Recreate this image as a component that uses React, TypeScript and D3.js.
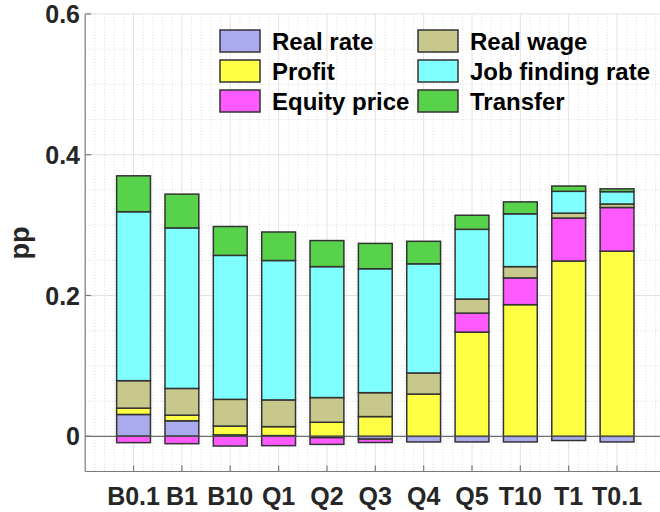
import { useEffect, useRef } from 'react'
import * as d3 from 'd3'

// categories along the x axis
const categories = ['B0.1', 'B1', 'B10', 'Q1', 'Q2', 'Q3', 'Q4', 'Q5', 'T10', 'T1', 'T0.1']

// contributions (pp) per channel
const realRate = [0.031, 0.022, 0.002, 0.001, -0.002, -0.004, -0.008, -0.008, -0.008, -0.006, -0.008]
const profit = [0.009, 0.008, 0.0125, 0.0127, 0.02, 0.028, 0.06, 0.148, 0.187, 0.249, 0.263]
const equityPrice = [-0.009, -0.0105, -0.0138, -0.0133, -0.0095, -0.0048, 0, 0.027, 0.038, 0.061, 0.062]
const realWage = [0.039, 0.038, 0.038, 0.038, 0.035, 0.034, 0.03, 0.02, 0.016, 0.007, 0.005]
const jobFinding = [0.24, 0.228, 0.2045, 0.198, 0.186, 0.176, 0.155, 0.099, 0.075, 0.031, 0.0175]
const transfer = [0.051, 0.048, 0.041, 0.0405, 0.037, 0.036, 0.032, 0.02, 0.017, 0.0075, 0.004]

const seriesNames = ['Real rate', 'Profit', 'Equity price', 'Real wage', 'Job finding rate', 'Transfer']
const seriesValues = [realRate, profit, equityPrice, realWage, jobFinding, transfer]
const seriesColors = ['#aaaaee', '#ffff44', '#ff5aff', '#c8c88c', '#80ffff', '#58d24a']

const yTicks = [0, 0.2, 0.4, 0.6]
const yTickLabels = ['0', '0.2', '0.4', '0.6']

const FONT = '"Liberation Sans", Arial, Helvetica, sans-serif'

const App = () => {
  const svgRef = useRef<SVGSVGElement>(null)

  useEffect(() => {
    if (!svgRef.current) return
    d3.select(svgRef.current).selectAll('*').remove()

    const width = 660
    const height = 512
    const svg = d3.select(svgRef.current).attr('width', width).attr('height', height)

    const x = d3.scaleLinear().domain([0, 12]).range([85.2, 665.4])
    const y = d3.scaleLinear().domain([-0.05, 0.6]).range([471.5, 13.9])
    const left = x(0)
    const right = width
    const top = y(0.6)
    const bottom = y(-0.05)

    // table for the stack
    const rows = categories.map((c, i) => {
      const r: Record<string, number | string> = { cat: c, idx: i + 1 }
      seriesNames.forEach((s, k) => { r[s] = seriesValues[k][i] })
      return r
    })

    const stacked = d3
      .stack<Record<string, number | string>>()
      .keys(seriesNames)
      .value((d, key) => d[key] as number)
      .offset(d3.stackOffsetDiverging)(rows)

    // minor grid
    const grid = svg.append('g')
    const minorX = d3.range(1, 60).map(i => i * 0.2).filter(v => Math.abs(v - Math.round(v)) > 1e-6)
    grid.selectAll('line.mx')
      .data(minorX)
      .enter()
      .append('line')
      .attr('x1', d => x(d)).attr('x2', d => x(d))
      .attr('y1', top).attr('y2', bottom)
      .attr('stroke', '#d6d6d6')
      .attr('stroke-width', 0.8)
      .attr('stroke-dasharray', '1,2')

    const minorY = d3.range(-1, 12).map(i => i * 0.05).filter(v => Math.abs(v / 0.2 - Math.round(v / 0.2)) > 1e-6)
    grid.selectAll('line.my')
      .data(minorY)
      .enter()
      .append('line')
      .attr('x1', left).attr('x2', right)
      .attr('y1', d => y(d)).attr('y2', d => y(d))
      .attr('stroke', '#d6d6d6')
      .attr('stroke-width', 0.8)
      .attr('stroke-dasharray', '1,2')

    // major grid
    grid.selectAll('line.gx')
      .data(d3.range(1, 12))
      .enter()
      .append('line')
      .attr('x1', d => x(d)).attr('x2', d => x(d))
      .attr('y1', top).attr('y2', bottom)
      .attr('stroke', '#e2e2e2')
      .attr('stroke-width', 1)

    grid.selectAll('line.gy')
      .data(yTicks)
      .enter()
      .append('line')
      .attr('x1', left).attr('x2', right)
      .attr('y1', d => y(d)).attr('y2', d => y(d))
      .attr('stroke', '#e2e2e2')
      .attr('stroke-width', 1)

    // bars
    const bw = 0.7 * (x(1) - x(0))
    const layers = svg.append('g')
      .selectAll('g.layer')
      .data(stacked)
      .enter()
      .append('g')
      .attr('fill', (_d, i) => seriesColors[i])

    layers.selectAll('rect')
      .data(d => d)
      .enter()
      .append('rect')
      .attr('x', d => x(d.data.idx as number) - bw / 2)
      .attr('y', d => y(Math.max(d[0], d[1])))
      .attr('width', bw)
      .attr('height', d => Math.abs(y(d[0]) - y(d[1])))
      .attr('stroke', '#333')
      .attr('stroke-width', 1.5)

    // zero line
    svg.append('line')
      .attr('x1', left).attr('x2', right)
      .attr('y1', y(0)).attr('y2', y(0))
      .attr('stroke', '#555')
      .attr('stroke-width', 1)

    // axes lines
    svg.append('line')
      .attr('x1', left).attr('x2', left)
      .attr('y1', top).attr('y2', bottom)
      .attr('stroke', '#7a7a7a')
      .attr('stroke-width', 1.2)
    svg.append('line')
      .attr('x1', left).attr('x2', right)
      .attr('y1', bottom).attr('y2', bottom)
      .attr('stroke', '#7a7a7a')
      .attr('stroke-width', 1.2)

    // ticks
    svg.selectAll('line.yt')
      .data(yTicks)
      .enter()
      .append('line')
      .attr('x1', left).attr('x2', left + 6)
      .attr('y1', d => y(d)).attr('y2', d => y(d))
      .attr('stroke', '#7a7a7a')
      .attr('stroke-width', 1.2)
    svg.selectAll('line.xt')
      .data(d3.range(1, 12))
      .enter()
      .append('line')
      .attr('x1', d => x(d)).attr('x2', d => x(d))
      .attr('y1', bottom).attr('y2', bottom - 6)
      .attr('stroke', '#7a7a7a')
      .attr('stroke-width', 1.2)

    // tick labels
    svg.selectAll('text.yl')
      .data(yTicks)
      .enter()
      .append('text')
      .attr('x', 80)
      .attr('y', d => y(d) + 9)
      .attr('text-anchor', 'end')
      .attr('font-family', FONT)
      .attr('font-weight', 'bold')
      .attr('font-size', '25px')
      .attr('fill', '#262626')
      .text((_d, i) => yTickLabels[i])

    svg.selectAll('text.xl')
      .data(categories)
      .enter()
      .append('text')
      .attr('x', (_d, i) => x(i + 1))
      .attr('y', 505)
      .attr('text-anchor', 'middle')
      .attr('font-family', FONT)
      .attr('font-weight', 'bold')
      .attr('font-size', '25px')
      .attr('fill', '#262626')
      .text(d => d)

    // y label
    svg.append('text')
      .attr('transform', 'translate(29,243) rotate(-90)')
      .attr('text-anchor', 'middle')
      .attr('font-family', FONT)
      .attr('font-weight', 'bold')
      .attr('font-size', '27px')
      .attr('fill', '#262626')
      .text('pp')

    // legend
    const legend = svg.append('g')
    const items = legend.selectAll('g.item')
      .data(seriesNames)
      .enter()
      .append('g')
      .attr('transform', (_d, i) => `translate(${220 + Math.floor(i / 3) * 198},${30 + (i % 3) * 30})`)

    items.append('rect')
      .attr('width', 40)
      .attr('height', 22)
      .attr('fill', (_d, i) => seriesColors[i])
      .attr('stroke', '#333')
      .attr('stroke-width', 1.5)

    items.append('text')
      .attr('x', 52)
      .attr('y', 19.5)
      .attr('font-family', FONT)
      .attr('font-weight', 'bold')
      .attr('font-size', '24px')
      .attr('fill', '#000')
      .text(d => d)
  }, [])

  return (
    <svg ref={svgRef} style={{ position: 'absolute', left: 0, top: 0, background: '#fff' }}></svg>
  )
}

export default App
